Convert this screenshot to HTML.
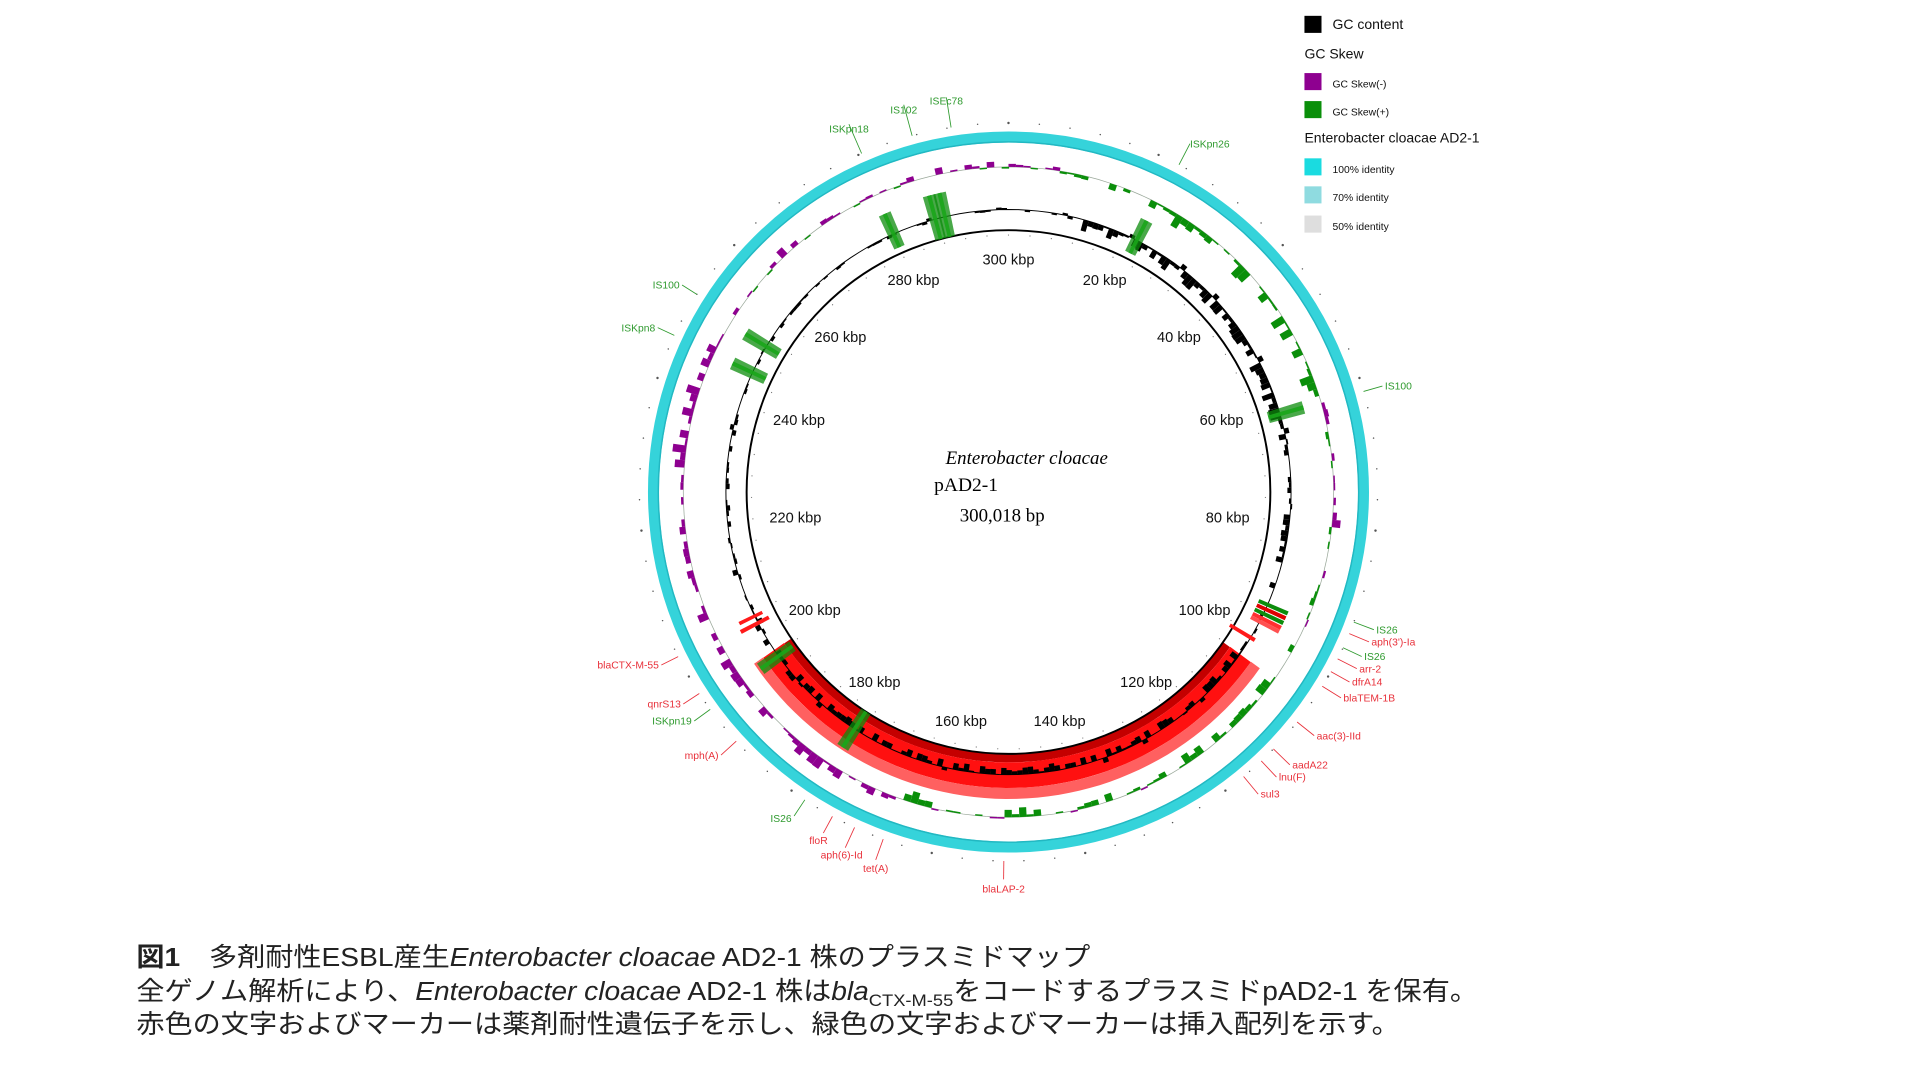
<!DOCTYPE html>
<html><head><meta charset="utf-8"><style>
html,body{margin:0;padding:0;background:#fff;width:1911px;height:1073px;overflow:hidden}
svg{display:block}
.g{fill:#2e9a2e;font-family:"Liberation Sans",sans-serif;font-size:8.5px}
.r{fill:#e8303a;font-family:"Liberation Sans",sans-serif;font-size:8.5px}
.k{font-family:"Liberation Sans",sans-serif;font-size:12px;fill:#111;text-anchor:middle}
.lg{font-family:"Liberation Sans",sans-serif;fill:#111}
.cap{font-family:"Liberation Sans","Noto Sans CJK JP",sans-serif;font-size:21.5px;fill:#222}
</style></head><body>
<svg id="s" width="1911" height="1073" viewBox="0 0 1569 881" preserveAspectRatio="none" xmlns="http://www.w3.org/2000/svg">
<g id="bars"></g>
<circle cx="828" cy="404" r="291.5" fill="none" stroke="#35d3da" stroke-width="9"/>
<circle cx="828" cy="404" r="287.5" fill="none" stroke="#22b8c2" stroke-width="1.2"/>
<circle cx="828" cy="404" r="215" fill="none" stroke="#000" stroke-width="1.6"/>
<g id="fg"></g>
<text class="k" x="828" y="217">300 kbp</text>
<text class="k" x="907" y="234">20 kbp</text>
<text class="k" x="968" y="281">40 kbp</text>
<text class="k" x="1003" y="349">60 kbp</text>
<text class="k" x="1008" y="429">80 kbp</text>
<text class="k" x="989" y="505">100 kbp</text>
<text class="k" x="941" y="564">120 kbp</text>
<text class="k" x="870" y="596">140 kbp</text>
<text class="k" x="789" y="596">160 kbp</text>
<text class="k" x="718" y="564">180 kbp</text>
<text class="k" x="669" y="505">200 kbp</text>
<text class="k" x="653" y="429">220 kbp</text>
<text class="k" x="656" y="349">240 kbp</text>
<text class="k" x="690" y="281">260 kbp</text>
<text class="k" x="750" y="234">280 kbp</text>
<text x="843" y="381" text-anchor="middle" font-family="Liberation Serif,serif" font-style="italic" font-size="15.5">Enterobacter cloacae</text>
<text x="767" y="403" font-family="Liberation Serif,serif" font-size="16">pAD2-1</text>
<text x="788" y="428" font-family="Liberation Serif,serif" font-size="15.5">300,018 bp</text>
<g id="labs">
<text class="g" x="777" y="86" text-anchor="middle">ISEc78</text>
<text class="g" x="742" y="93" text-anchor="middle">IS102</text>
<text class="g" x="697" y="109" text-anchor="middle">ISKpn18</text>
<text class="g" x="977" y="121">ISKpn26</text>
<text class="g" x="558" y="237" text-anchor="end">IS100</text>
<text class="g" x="538" y="272" text-anchor="end">ISKpn8</text>
<text class="g" x="1137" y="320">IS100</text>
<text class="g" x="1130" y="520">IS26</text>
<text class="g" x="1120" y="542">IS26</text>
<text class="r" x="1126" y="530">aph(3')-Ia</text>
<text class="r" x="1116" y="552">arr-2</text>
<text class="r" x="1110" y="563">dfrA14</text>
<text class="r" x="1103" y="576">blaTEM-1B</text>
<text class="r" x="1081" y="607">aac(3)-IId</text>
<text class="r" x="1061" y="631">aadA22</text>
<text class="r" x="1050" y="641">lnu(F)</text>
<text class="r" x="1035" y="655">sul3</text>
<text class="r" x="824" y="733" text-anchor="middle">blaLAP-2</text>
<text class="r" x="719" y="716" text-anchor="middle">tet(A)</text>
<text class="r" x="691" y="705" text-anchor="middle">aph(6)-Id</text>
<text class="r" x="672" y="693" text-anchor="middle">floR</text>
<text class="r" x="590" y="623" text-anchor="end">mph(A)</text>
<text class="r" x="559" y="581" text-anchor="end">qnrS13</text>
<text class="g" x="568" y="595" text-anchor="end">ISKpn19</text>
<text class="r" x="541" y="549" text-anchor="end">blaCTX-M-55</text>
<text class="g" x="650" y="675" text-anchor="end">IS26</text>
</g>
<rect x="1071" y="13" width="14" height="14" fill="#000"/>
<text class="lg" x="1094" y="24" font-size="11.5">GC content</text>
<text class="lg" x="1071" y="48" font-size="11.5">GC Skew</text>
<rect x="1071" y="60" width="14" height="14" fill="#8e0090"/>
<text class="lg" x="1094" y="72" font-size="8.5">GC Skew(-)</text>
<rect x="1071" y="83" width="14" height="14" fill="#0a8f0a"/>
<text class="lg" x="1094" y="95" font-size="8.5">GC Skew(+)</text>
<text class="lg" x="1071" y="117" font-size="11.5">Enterobacter cloacae AD2-1</text>
<rect x="1071" y="130" width="14" height="14" fill="#1adbe0"/>
<text class="lg" x="1094" y="142" font-size="8.5">100% identity</text>
<rect x="1071" y="153" width="14" height="14" fill="#8fdbe0"/>
<text class="lg" x="1094" y="165" font-size="8.5">70% identity</text>
<rect x="1071" y="177" width="14" height="14" fill="#dedede"/>
<text class="lg" x="1094" y="189" font-size="8.5">50% identity</text>
<g transform="translate(112,0) scale(1.075,1) translate(-112,0)">
<text class="cap" x="112" y="793"><tspan font-weight="bold">図1</tspan><tspan dx="22">多剤耐性ESBL産生</tspan><tspan font-style="italic">Enterobacter cloacae</tspan> AD2-1 株のプラスミドマップ</text>
<text class="cap" x="112" y="821">全ゲノム解析により、<tspan font-style="italic">Enterobacter cloacae</tspan> AD2-1 株は<tspan font-style="italic">bla</tspan><tspan font-size="14" dy="5">CTX-M-55</tspan><tspan dy="-5">をコードするプラスミドpAD2-1 を保有。</tspan></text>
<text class="cap" x="112" y="848">赤色の文字およびマーカーは薬剤耐性遺伝子を示し、緑色の文字およびマーカーは挿入配列を示す。</text>
</g>
</svg>
<script>
(function(){
var NS="http://www.w3.org/2000/svg",cx=828,cy=404;
var bars=document.getElementById("bars"),fg=document.getElementById("fg");
function P(a,r){var t=a*Math.PI/180;return [cx+r*Math.sin(t),cy-r*Math.cos(t)];}
function seg(par,a1,a2,r1,r2,fill,op){var p=[P(a1,r1),P(a2,r1),P(a2,r2),P(a1,r2)];
 var e=document.createElementNS(NS,"polygon");e.setAttribute("points",p.map(function(q){return q[0].toFixed(1)+","+q[1].toFixed(1)}).join(" "));
 e.setAttribute("fill",fill);if(op)e.setAttribute("fill-opacity",op);par.appendChild(e);}
function arc(par,a1,a2,r,stroke,w){var n=Math.max(2,Math.ceil((a2-a1)/2)),d="";for(var i=0;i<=n;i++){var q=P(a1+(a2-a1)*i/n,r);d+=(i?"L":"M")+q[0].toFixed(1)+","+q[1].toFixed(1);}
 var e=document.createElementNS(NS,"path");e.setAttribute("d",d);e.setAttribute("fill","none");e.setAttribute("stroke",stroke);e.setAttribute("stroke-width",w);par.appendChild(e);}
var s=7;function rnd(){s=(s*16807)%2147483647;return s/2147483647;}
arc(bars,125,236,218.5,"#c40000",7);
arc(bars,125,236,232.5,"#ff1010",21);
arc(bars,125,236,247.5,"#ff6060",9);
arc(bars,0,360,267,"#9aa89a",0.6);
function bias(a){if(a<20)return 0.1;if(a<72)return 0.8;if(a<100)return -0.3;if(a<150)return 0.5;if(a<200)return 0.45;if(a<300)return -0.8;return -0.45;}
for(var a=0;a<360;a+=1.3){var b=bias(a),v=(rnd()-0.5)*1.6+b*1.1;
 if(rnd()<0.35)continue;
 var m=Math.abs(v)*6*(0.3+rnd());if(m>11)m=11;if(m<1.2)m=1.2;
 if(v>0)seg(bars,a,a+1.3,267,267-m,"#0a8f0a");else seg(bars,a,a+1.3,267,267+m,"#8e0090");}
arc(bars,0,360,232,"#000",0.8);
function gb(a){if(a>15&&a<75)return 1.0;if(a<110&&a>=75)return 0.55;if(a>125&&a<236)return 0.6;if(a>255&&a<295)return 0.25;if(a>215&&a<255)return 0.45;return 0.15;}
for(var a=0;a<360;a+=1.1){var g=gb(a);if(rnd()>0.35+g*0.6)continue;var m=rnd()*g*9+1;
 if(rnd()<0.85)seg(bars,a,a+1.1,232,232-m,"#000");else seg(bars,a,a+1.1,232,232+Math.min(m,4),"#000");}
[[345,215,252],[347,215,252],[336,220,250],[27,220,250],[74,222,252],[301,220,252],[295,220,250],[234.5,218,250],[213,215,250]].forEach(function(m){
 seg(fg,m[0]-1.2,m[0]+1.2,m[1],m[2],"#0c8c0c","0.75");seg(fg,m[0]-0.4,m[0]+0.4,m[1],m[2],"#1aa51a","0.9");});
[[113.5,"#0c8c0c"],[114.5,"#e00000"],[115.5,"#0c8c0c"],[116.5,"#ff3030"],[117.3,"#ff5050"]].forEach(function(m){seg(fg,m[0]-0.4,m[0]+0.4,224,250,m[1]);});
seg(fg,120.6,121.4,212,236,"#ff1a1a");
seg(fg,242,242.8,222,248,"#ff1a1a");seg(fg,243.6,244.3,225,246,"#ff1a1a");
for(var a=0;a<360;a+=4.8){var q=P(a,303),e=document.createElementNS(NS,"circle");e.setAttribute("cx",q[0]);e.setAttribute("cy",q[1]);e.setAttribute("r",(Math.round(a/4.8)%5==0)?1:0.6);e.setAttribute("fill","#555");fg.appendChild(e);}
for(var a=0;a<360;a+=4.8){var q=P(a,211),e=document.createElementNS(NS,"circle");e.setAttribute("cx",q[0]);e.setAttribute("cy",q[1]);e.setAttribute("r",0.5);e.setAttribute("fill","#777");fg.appendChild(e);}
var L=[[777,80,"#2e9a2e"],[742,86,"#2e9a2e"],[697,102,"#2e9a2e"],[977,118,"#2e9a2e"],[560,234,"#2e9a2e"],[540,269,"#2e9a2e"],[1135,317,"#2e9a2e"],[1128,517,"#2e9a2e"],[1118,539,"#2e9a2e"],
[1124,527,"#e8303a"],[1114,549,"#e8303a"],[1108,560,"#e8303a"],[1101,573,"#e8303a"],[1079,604,"#e8303a"],[1059,628,"#e8303a"],[1048,638,"#e8303a"],[1033,652,"#e8303a"],
[824,722,"#e8303a"],[719,706,"#e8303a"],[694,696,"#e8303a"],[676,684,"#e8303a"],[592,620,"#e8303a"],[561,578,"#e8303a"],[570,592,"#2e9a2e"],[543,546,"#e8303a"],[652,670,"#2e9a2e"]];
L.forEach(function(l){var dx=l[0]-cx,dy=l[1]-cy,d=Math.sqrt(dx*dx+dy*dy),u=[dx/d,dy/d];
 var e=document.createElementNS(NS,"line");e.setAttribute("x1",l[0]);e.setAttribute("y1",l[1]);e.setAttribute("x2",cx+u[0]*303);e.setAttribute("y2",cy+u[1]*303);
 e.setAttribute("stroke",l[2]);e.setAttribute("stroke-width",0.7);fg.appendChild(e);});
})();
</script>
</body></html>
